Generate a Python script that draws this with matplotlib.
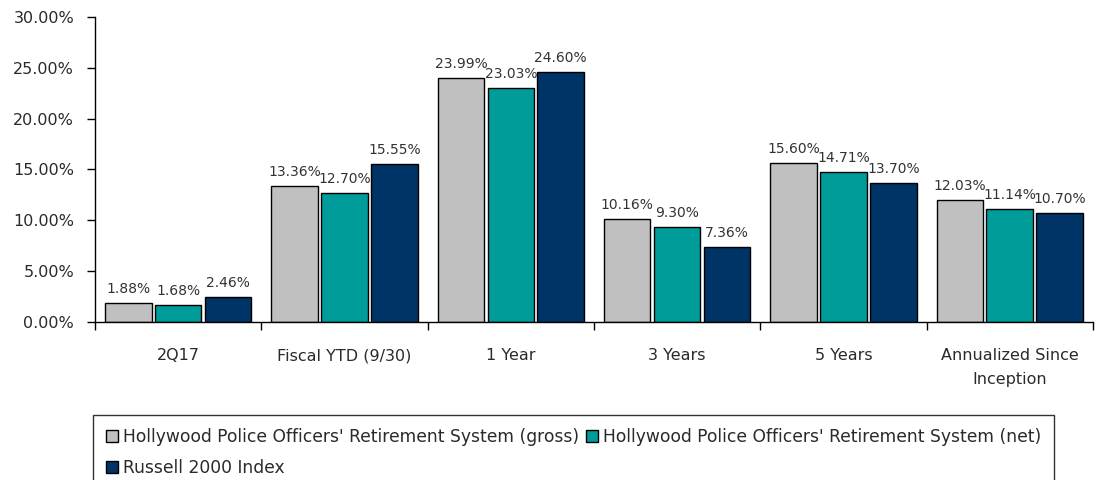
import numpy as np
import matplotlib.pyplot as plt
from matplotlib.patches import Patch

categories = ['2Q17', 'Fiscal YTD (9/30)', '1 Year', '3 Years', '5 Years',
              'Annualized Since\nInception']
gross = [1.88, 13.36, 23.99, 10.16, 15.60, 12.03]
net = [1.68, 12.70, 23.03, 9.30, 14.71, 11.14]
russell = [2.46, 15.55, 24.60, 7.36, 13.70, 10.70]
series_names = ["Hollywood Police Officers' Retirement System (gross)",
                "Hollywood Police Officers' Retirement System (net)",
                "Russell 2000 Index"]
colors = ['#C0C0C0', '#009C99', '#003366']

plt.rcParams['font.family'] = ['DejaVu Sans']
txt = '#2a2a2a'

fig = plt.figure(figsize=(11.05, 4.8), dpi=100)
ax = fig.add_axes([0.086, 0.329, 0.903, 0.636])

x = np.arange(len(categories))
w = 0.28
offs = [-0.3, 0.0, 0.3]
for vals, off, c, name in zip([gross, net, russell], offs, colors, series_names):
    bars = ax.bar(x + off, vals, w, color=c, edgecolor='black', linewidth=1.0, label=name)
    for b, v in zip(bars, vals):
        ax.annotate('%.2f%%' % v, (b.get_x() + b.get_width() / 2, v),
                    xytext=(0, 5), textcoords='offset points',
                    ha='center', va='bottom', fontsize=10, color='#333333')

ax.set_xlim(-0.5, len(categories) - 0.5)
ax.set_ylim(0, 30)
ax.set_yticks(np.arange(0, 31, 5))
ax.set_yticklabels(['%.2f%%' % t for t in np.arange(0, 31, 5)])
ax.tick_params(axis='y', length=6, width=1, pad=9, labelsize=11.5, labelcolor=txt)

ax.set_xticks(x)
ax.set_xticklabels(categories, linespacing=1.75)
ax.tick_params(axis='x', which='major', length=0, pad=19, labelsize=11.5, labelcolor=txt)
ax.set_xticks(np.arange(-0.5, len(categories)), minor=True)
ax.tick_params(axis='x', which='minor', length=6, width=1, direction='out')

for s in ['top', 'right']:
    ax.spines[s].set_visible(False)
for s in ['left', 'bottom']:
    ax.spines[s].set_linewidth(1.0)

handles = [Patch(facecolor=colors[0], edgecolor='black', label=series_names[0]),
           Patch(facecolor=colors[2], edgecolor='black', label=series_names[2]),
           Patch(facecolor=colors[1], edgecolor='black', label=series_names[1])]
leg = fig.legend(handles=handles, loc='upper left', bbox_to_anchor=(0.084, 0.136),
                 ncol=2, fontsize=12.3, frameon=True, fancybox=False,
                 handlelength=0.7, handleheight=0.7, handletextpad=0.3,
                 columnspacing=0.4, borderpad=0.75, labelspacing=0.8, borderaxespad=0)
leg.get_frame().set_edgecolor('black')
leg.get_frame().set_linewidth(1.0)
for t in leg.get_texts():
    t.set_color(txt)

fig.savefig('out.png', dpi=100)
